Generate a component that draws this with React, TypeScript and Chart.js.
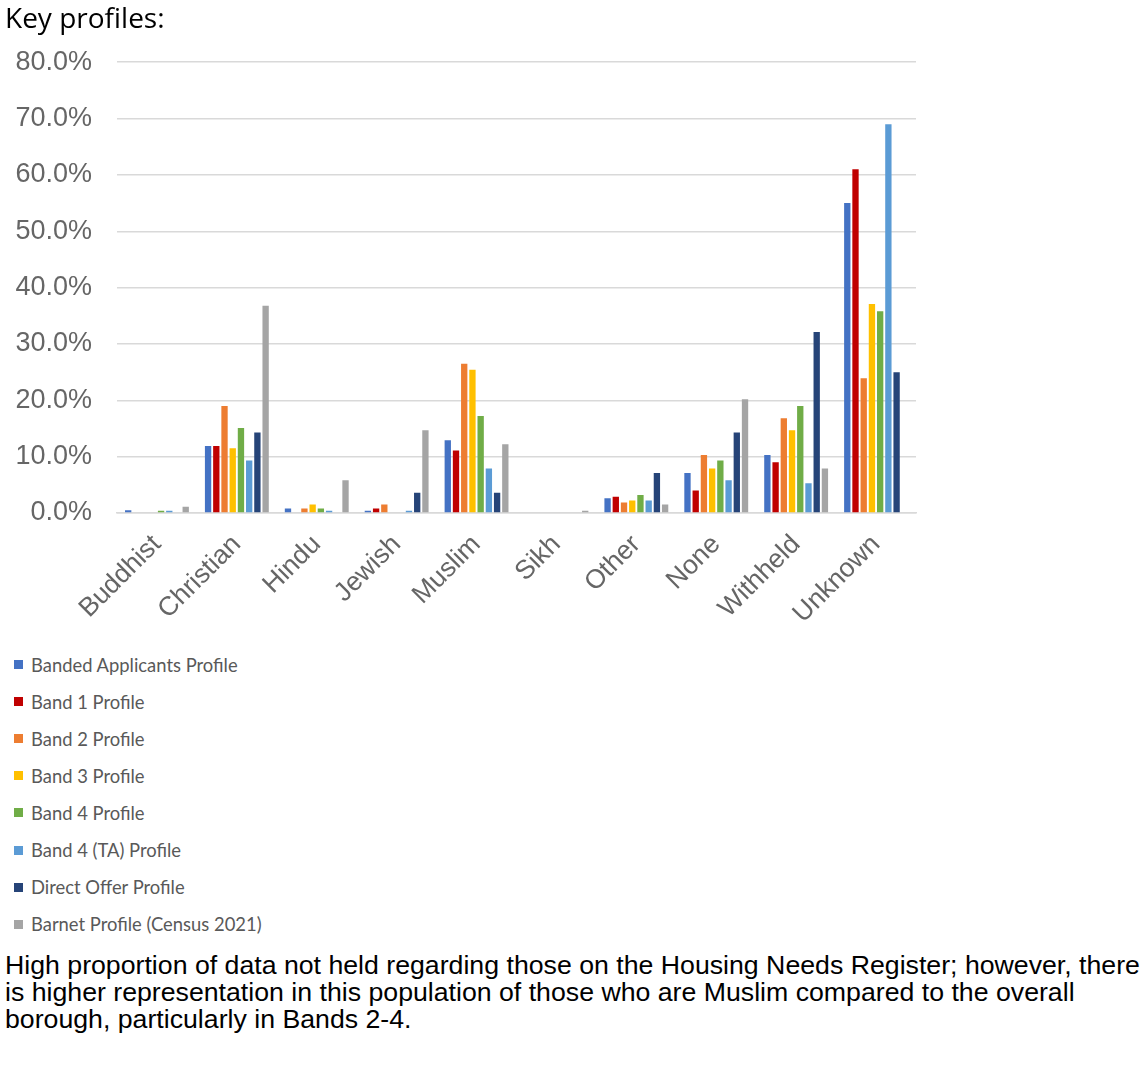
import React, { useEffect, useRef } from "react";
import { Chart, registerables } from "chart.js";

Chart.register(...registerables);

const categories = ["Buddhist", "Christian", "Hindu", "Jewish", "Muslim", "Sikh", "Other", "None", "Withheld", "Unknown"];

const bandedApplicants = [0.5, 11.9, 0.8, 0.4, 12.9, 0, 2.6, 7.1, 10.3, 55.0];
const band1 = [0, 11.9, 0, 0.8, 11.1, 0, 2.9, 4.0, 9.0, 61.0];
const band2 = [0, 19.0, 0.8, 1.5, 26.5, 0, 1.85, 10.3, 16.8, 23.9];
const band3 = [0, 11.5, 1.5, 0, 25.4, 0, 2.2, 7.9, 14.7, 37.1];
const band4 = [0.4, 15.1, 0.8, 0, 17.2, 0, 3.2, 9.3, 19.0, 35.8];
const band4TA = [0.4, 9.3, 0.4, 0.4, 7.9, 0, 2.2, 5.8, 5.3, 69.0];
const directOffer = [0, 14.3, 0, 3.6, 3.6, 0, 7.1, 14.3, 32.1, 25.0];
const barnetCensus = [1.1, 36.8, 5.8, 14.7, 12.2, 0.4, 1.5, 20.2, 7.9, 0];

const seriesLabels = [
  "Banded Applicants Profile",
  "Band 1 Profile",
  "Band 2 Profile",
  "Band 3 Profile",
  "Band 4 Profile",
  "Band 4 (TA) Profile",
  "Direct Offer Profile",
  "Barnet Profile (Census 2021)",
];
const seriesValues = [bandedApplicants, band1, band2, band3, band4, band4TA, directOffer, barnetCensus];
const seriesColors = ["#4472C4", "#C00000", "#ED7D31", "#FFC000", "#70AD47", "#5B9BD5", "#264478", "#A5A5A5"];

const yMin = 0;
const yMax = 80;
const yStep = 10;

export default function App() {
  const canvasRef = useRef<HTMLCanvasElement | null>(null);

  useEffect(() => {
    const canvas = canvasRef.current;
    if (!canvas) return;
    const chart = new Chart(canvas, {
      type: "bar",
      data: {
        labels: categories,
        datasets: seriesLabels.map((label, i) => ({
          label,
          data: seriesValues[i],
          backgroundColor: seriesColors[i],
          borderWidth: 0,
          categoryPercentage: 0.823,
          barPercentage: 0.77,
        })),
      },
      options: {
        animation: false,
        responsive: false,
        maintainAspectRatio: false,
        layout: { padding: { left: 0, right: 14, top: 2, bottom: 0 } },
        plugins: {
          legend: { display: false },
          tooltip: { enabled: false },
          title: { display: false },
        },
        scales: {
          x: {
            grid: { display: false, drawTicks: false },
            border: { display: true, color: "#d9d9d9", width: 1.5 },
            ticks: {
              color: "#666666",
              font: { family: "'Liberation Sans', Arial, sans-serif", size: 26.5 },
              maxRotation: 45,
              minRotation: 45,
              padding: 16,
              autoSkip: false,
            },
            afterFit: (s: any) => {
              s.height = 127;
            },
          },
          y: {
            min: yMin,
            max: yMax,
            grid: { color: "#d9d9d9", lineWidth: 1.5, drawTicks: false },
            border: { display: false },
            ticks: {
              stepSize: yStep,
              color: "#666666",
              padding: 25,
              font: { family: "'Liberation Sans', Arial, sans-serif", size: 27 },
              callback: (v: any) => Number(v).toFixed(1) + "%",
            },
            afterFit: (s: any) => {
              s.width = 117;
            },
          },
        },
      },
    });
    return () => chart.destroy();
  }, []);

  return (
    <div style={{ position: "absolute", left: 0, top: 0, width: 1147, height: 1075, background: "#fff" }}>
      <canvas
        ref={canvasRef}
        width={930}
        height={619}
        style={{ position: "absolute", left: 0, top: 21, width: 930, height: 619 }}
      />
      <div
        style={{
          position: "absolute",
          left: 5,
          top: 0,
          fontFamily: "'Open Sans', Lato, sans-serif",
          fontSize: 28,
          color: "#000",
          lineHeight: "34px",
        }}
      >
        Key profiles:
      </div>
      <div style={{ position: "absolute", left: 14, top: 646 }}>
        {seriesLabels.map((label, i) => (
          <div
            key={label}
            style={{
              display: "flex",
              alignItems: "center",
              height: 37.1,
              fontFamily: "Lato, 'Open Sans', sans-serif",
              fontSize: 18.4,
              color: "#595959",
            }}
          >
            <span
              style={{
                display: "inline-block",
                width: 9,
                height: 9,
                background: seriesColors[i],
                marginRight: 8,
              }}
            />
            <span>{label}</span>
          </div>
        ))}
      </div>
      <div
        style={{
          position: "absolute",
          left: 5,
          top: 952,
          fontFamily: "'Liberation Sans', Arial, sans-serif",
          fontSize: 26.7,
          lineHeight: "27px",
          color: "#000",
          whiteSpace: "nowrap",
        }}
      >
        High proportion of data not held regarding those on the Housing Needs Register; however, there
        <br />
        is higher representation in this population of those who are Muslim compared to the overall
        <br />
        borough, particularly in Bands 2-4.
      </div>
    </div>
  );
}
